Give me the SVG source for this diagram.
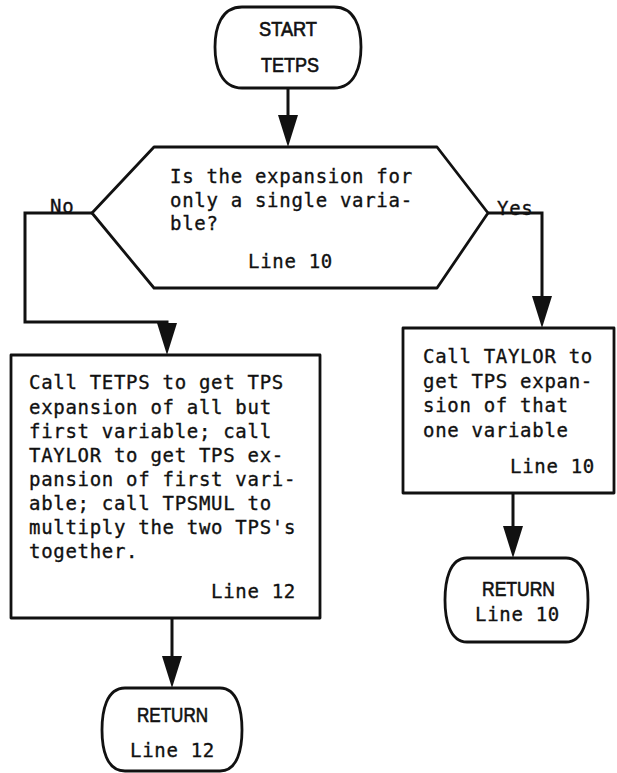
<svg xmlns="http://www.w3.org/2000/svg" width="617" height="773" viewBox="0 0 617 773">
  <style>
    .shape { fill: #ffffff; stroke: #111111; stroke-width: 2.8; stroke-linejoin: round; }
    .wire { fill: none; stroke: #111111; stroke-width: 3; }
    .mono { font-family: "DejaVu Sans Mono", "Liberation Mono", monospace; font-size: 19px; letter-spacing: 0.7px; fill: #111111; stroke: #111111; stroke-width: 0.35; }
    .sans { font-family: "Liberation Sans", Arial, sans-serif; font-size: 20.5px; fill: #111111; stroke: #111111; stroke-width: 0.65; }
  </style>
  <defs>
    <marker id="head" viewBox="0 0 32 20" refX="22" refY="10" markerWidth="32" markerHeight="20" markerUnits="userSpaceOnUse" orient="auto">
      <path d="M0,0 L32,10 L0,20 Z" fill="#111111"/>
    </marker>
  </defs>
  <rect width="617" height="773" fill="#ffffff"/>

  <!-- connectors -->
  <g id="connectors">
    <line class="wire" x1="288" y1="88" x2="288" y2="137" marker-end="url(#head)"/>
    <polyline class="wire" points="92,213 25,213 25,322 167,322 167,345" marker-end="url(#head)"/>
    <polyline class="wire" points="488,213 542,213 542,318" marker-end="url(#head)"/>
    <line class="wire" x1="513" y1="493" x2="513" y2="548" marker-end="url(#head)"/>
    <line class="wire" x1="172" y1="618" x2="172" y2="678" marker-end="url(#head)"/>
    <text class="mono" x="50" y="213">No</text>
    <text class="mono" x="497" y="215">Yes</text>
  </g>

  <!-- start terminal -->
  <g id="start">
    <path class="shape" d="M242,7 H334 C355,7 361,28 361,47 C361,66 355,88 334,88 H242 C221,88 215,66 215,47 C215,28 221,7 242,7 Z"/>
    <text class="sans" x="259" y="36" textLength="58" lengthAdjust="spacingAndGlyphs">START</text>
    <text class="sans" x="261" y="72" textLength="58" lengthAdjust="spacingAndGlyphs">TETPS</text>
  </g>

  <!-- decision: single variable? -->
  <g id="decision">
    <polygon class="shape" points="92,213 154,147 437,147 488,213 437,288 154,288"/>
    <text class="mono" x="170" y="183">Is the expansion for</text>
    <text class="mono" x="170" y="207">only a single varia-</text>
    <text class="mono" x="170" y="230">ble?</text>
    <text class="mono" x="248" y="268">Line 10</text>
  </g>

  <!-- multi-variable branch -->
  <g id="multi-step">
    <rect class="shape" x="11" y="355" width="309" height="263"/>
    <text class="mono" x="29" y="389">Call TETPS to get TPS</text>
    <text class="mono" x="29" y="414">expansion of all but</text>
    <text class="mono" x="29" y="438">first variable; call</text>
    <text class="mono" x="29" y="462">TAYLOR to get TPS ex-</text>
    <text class="mono" x="29" y="486">pansion of first vari-</text>
    <text class="mono" x="29" y="510">able; call TPSMUL to</text>
    <text class="mono" x="29" y="534">multiply the two TPS's</text>
    <text class="mono" x="29" y="558">together.</text>
    <text class="mono" x="211" y="598">Line 12</text>
  </g>

  <!-- single-variable branch -->
  <g id="single-step">
    <rect class="shape" x="403" y="328" width="211" height="165"/>
    <text class="mono" x="423" y="363">Call TAYLOR to</text>
    <text class="mono" x="423" y="388">get TPS expan-</text>
    <text class="mono" x="423" y="412">sion of that</text>
    <text class="mono" x="423" y="437">one variable</text>
    <text class="mono" x="510" y="473">Line 10</text>
  </g>

  <!-- return terminals -->
  <g id="return-10">
    <path class="shape" d="M467,558 H566 C584,558 588,582 588,600 C588,618 584,642 566,642 H467 C449,642 445,618 445,600 C445,582 449,558 467,558 Z"/>
    <text class="sans" x="482" y="596" textLength="73" lengthAdjust="spacingAndGlyphs">RETURN</text>
    <text class="mono" x="475" y="621">Line 10</text>
  </g>

  <g id="return-12">
    <path class="shape" d="M125,688 H220 C238,688 242,712 242,730 C242,748 238,771 220,771 H125 C106,771 102,748 102,730 C102,712 106,688 125,688 Z"/>
    <text class="sans" x="137" y="722" textLength="71" lengthAdjust="spacingAndGlyphs">RETURN</text>
    <text class="mono" x="130" y="757">Line 12</text>
  </g>
</svg>
